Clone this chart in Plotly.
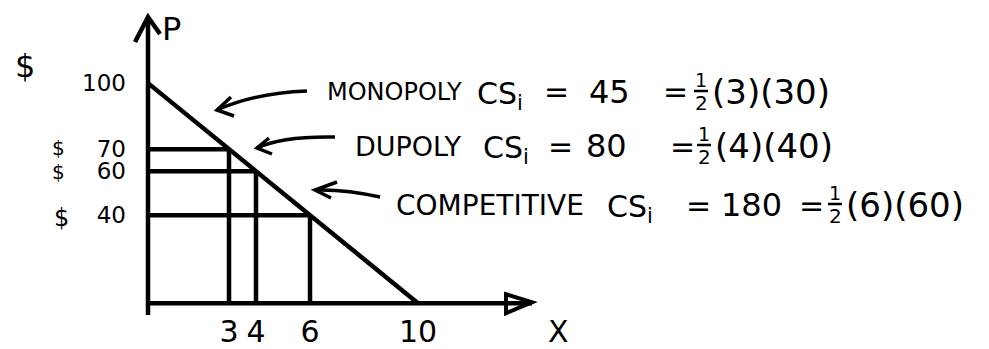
import plotly.graph_objects as go

# Linear demand P = 100 - 10x and three market outcomes on it
demand_q = [0, 10]
demand_p = [100, 0]
choke_price = 100
market_names = ["MONOPOLY", "DUPOLY", "COMPETITIVE"]
market_q = [3, 4, 6]
market_p = [70, 60, 40]
x_tick_vals = [3, 4, 6, 10]
x_tick_text = ["3", "4", "6", "10"]
y_tick_vals = [100, 70, 60, 40]
y_tick_text = ["100", "70", "60", "40"]

# consumer surplus triangles: 1/2 * quantity * (choke price - price)
cs_values = [0.5 * q * (choke_price - p) for q, p in zip(market_q, market_p)]

# ---- canvas geometry (pixels) ----
W, H = 989, 349
ORIGIN_X, ORIGIN_Y = 148, 303.2
PX_PER_Q, PX_PER_P = 27.0, 2.2007
INK = "black"
FONT = "DejaVu Sans"
STROKE = 4.5


def q_at(px):
    return (px - ORIGIN_X) / PX_PER_Q


def p_at(py):
    return (ORIGIN_Y - py) / PX_PER_P


def X(px):
    return px / W


def Y(py):
    return 1 - py / H


fig = go.Figure()

# demand curve
fig.add_trace(go.Scatter(x=demand_q, y=demand_p, mode="lines",
                         line=dict(color=INK, width=STROKE), hoverinfo="skip"))

# price levels and quantities for each market structure
for q, p in zip(market_q, market_p):
    fig.add_trace(go.Scatter(x=[0, q], y=[p, p], mode="lines",
                             line=dict(color=INK, width=STROKE), hoverinfo="skip"))
    fig.add_trace(go.Scatter(x=[q, q], y=[p, 0], mode="lines",
                             line=dict(color=INK, width=STROKE), hoverinfo="skip"))

shapes = []

# axes with arrowheads
y_top, y_bottom = p_at(17), p_at(315)
x_end = q_at(532)
shapes.append(dict(type="line", xref="x", yref="y", x0=0, y0=y_bottom, x1=0, y1=y_top,
                   line=dict(color=INK, width=STROKE)))
shapes.append(dict(type="line", xref="x", yref="y", x0=0, y0=0, x1=x_end, y1=0,
                   line=dict(color=INK, width=STROKE)))
# open "V" arrowhead on the price axis
shapes.append(dict(type="path", xref="paper", yref="paper",
                   path=f"M {X(ORIGIN_X - 13)},{Y(42)} L {X(ORIGIN_X)},{Y(17)} L {X(ORIGIN_X + 12)},{Y(34)}",
                   line=dict(color=INK, width=STROKE)))
# outlined triangle arrowhead on the quantity axis
tip_px = ORIGIN_X + x_end * PX_PER_Q
shapes.append(dict(type="path", xref="paper", yref="paper",
                   path=(f"M {X(tip_px - 26)},{Y(ORIGIN_Y - 9)} L {X(tip_px)},{Y(ORIGIN_Y - 1)} "
                         f"L {X(tip_px - 26)},{Y(ORIGIN_Y + 10)} Z"),
                   line=dict(color=INK, width=STROKE - 0.5)))

# pointer arrows from the captions toward the surplus triangles
pointers = [
    ((307, 91), (255, 93), (217, 110), (231, 97), (234, 116)),
    ((335, 137), (282, 136), (257, 148), (269, 138), (272, 154)),
    ((380, 197), (345, 189), (315, 190), (337, 182), (331, 198)),
]
for tail, ctrl, tip, b1, b2 in pointers:
    shapes.append(dict(type="path", xref="paper", yref="paper",
                       path=f"M {X(tail[0])},{Y(tail[1])} Q {X(ctrl[0])},{Y(ctrl[1])} {X(tip[0])},{Y(tip[1])}",
                       line=dict(color=INK, width=3.5)))
    shapes.append(dict(type="path", xref="paper", yref="paper",
                       path=f"M {X(b1[0])},{Y(b1[1])} L {X(tip[0])},{Y(tip[1])} L {X(b2[0])},{Y(b2[1])}",
                       line=dict(color=INK, width=3.5)))

annotations = []


def label(text, cx, cy, size, anchor="center"):
    annotations.append(dict(text=text, x=X(cx), y=Y(cy), xref="paper", yref="paper",
                            xanchor=anchor, yanchor="middle", showarrow=False,
                            font=dict(family=FONT, size=size, color=INK)))


# caption rows: name, CS_i, value and its 1/2 * q * (100 - p) breakdown
row_y = [92, 146, 205]
word_cx = [394, 408, 490]
word_size = [24, 27, 28]
cs_cx = [500, 506, 630]
eq1_cx = [556, 560, 698]
val_cx = [609, 606, 751]
eq2_cx = [675, 682, 811]
half_cx = [701, 704, 835]

for i, name in enumerate(market_names):
    cy = row_y[i]
    label(name, word_cx[i], cy, word_size[i])
    label("CS<sub>i</sub>", cs_cx[i], cy + 3, 30)
    label("=", eq1_cx[i], cy, 30)
    label(f"{cs_values[i]:g}", val_cx[i], cy, 32)
    label("=", eq2_cx[i], cy, 30)
    label("1", half_cx[i], cy - 12, 19)
    label("2", half_cx[i], cy + 11, 20)
    shapes.append(dict(type="line", xref="paper", yref="paper",
                       x0=X(half_cx[i] - 7), y0=Y(cy - 1), x1=X(half_cx[i] + 7), y1=Y(cy - 1),
                       line=dict(color=INK, width=2.5)))
    label(f"({market_q[i]})({choke_price - market_p[i]})", half_cx[i] + 9, cy, 34, anchor="left")

# currency marks beside the price ticks and the axis names
label("$", 25, 66, 32)
label("$", 58, 148, 20)
label("$", 58, 172, 20)
label("$", 61, 218, 24)
label("P", 171, 29, 32)
label("X", 558, 331, 30)

fig.update_layout(
    width=W, height=H,
    margin=dict(l=0, r=0, t=0, b=0),
    paper_bgcolor="white", plot_bgcolor="white",
    showlegend=False,
    shapes=shapes,
    annotations=annotations,
    xaxis=dict(range=[q_at(0), q_at(W)], showgrid=False, zeroline=False, showline=False,
               ticks="", tickvals=x_tick_vals, ticktext=x_tick_text,
               tickfont=dict(family=FONT, size=30, color=INK),
               anchor="free", position=1 - ORIGIN_Y / H, ticklabelstandoff=8,
               fixedrange=True),
    yaxis=dict(range=[p_at(H), p_at(0)], showgrid=False, zeroline=False, showline=False,
               ticks="", tickvals=y_tick_vals, ticktext=y_tick_text,
               tickfont=dict(family=FONT, size=23, color=INK),
               anchor="free", position=ORIGIN_X / W, ticklabelstandoff=22,
               fixedrange=True),
)

fig.write_html("out.html")
